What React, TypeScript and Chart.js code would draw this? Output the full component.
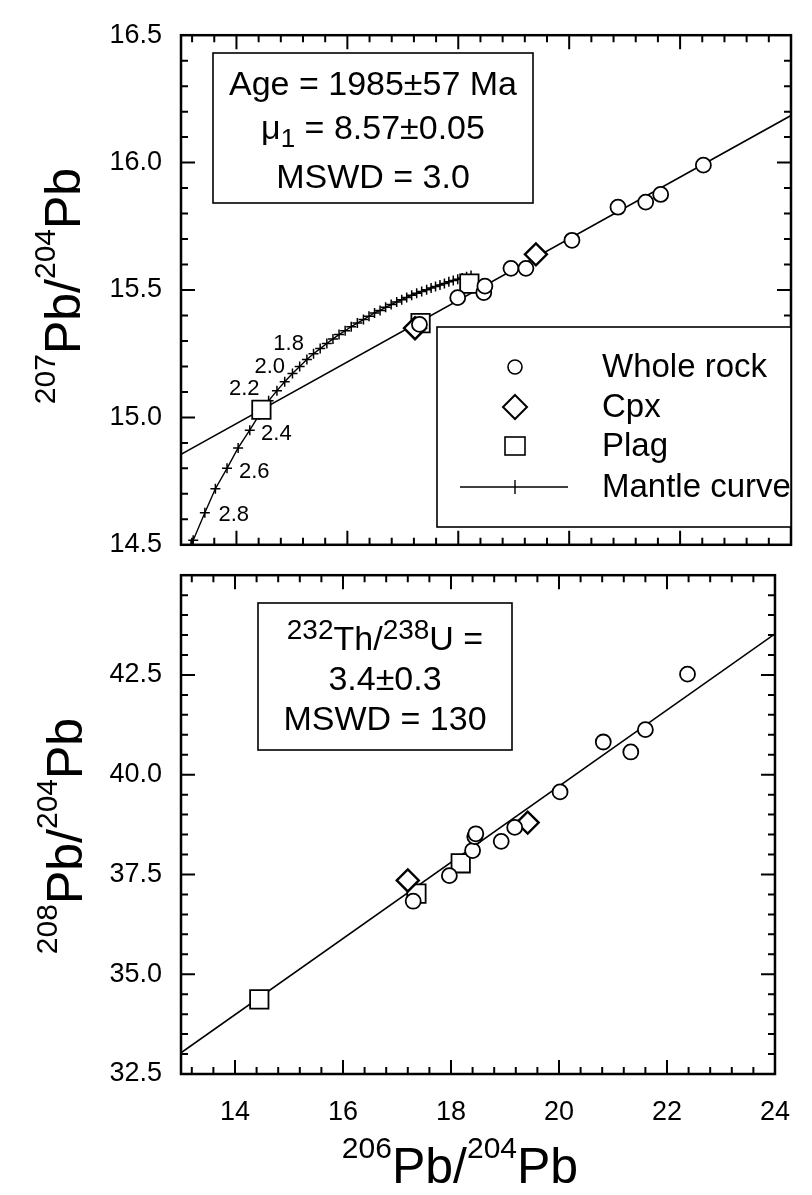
import React, { useEffect, useRef } from 'react';
import { Chart, registerables } from 'chart.js';

Chart.register(...registerables);

const FONT = '"Liberation Sans", Arial, Helvetica, sans-serif';

// ---------- axes ----------
const X_MIN = 13;
const X_MAX = 24;
const xTickValues = [14, 16, 18, 20, 22, 24];
const TOP_Y_MIN = 14.5;
const TOP_Y_MAX = 16.5;
const topYTickValues = [14.5, 15.0, 15.5, 16.0, 16.5];
const BOT_Y_MIN = 32.5;
const BOT_Y_MAX = 45;
const botYTickValues = [32.5, 35.0, 37.5, 40.0, 42.5];

// ---------- top panel: 207Pb/204Pb vs 206Pb/204Pb ----------
const wholeRockTop = [
  { x: 17.3, y: 15.365 }, { x: 17.99, y: 15.47 }, { x: 18.46, y: 15.49 },
  { x: 18.48, y: 15.515 }, { x: 18.95, y: 15.585 }, { x: 19.22, y: 15.585 },
  { x: 20.05, y: 15.695 }, { x: 20.88, y: 15.825 }, { x: 21.38, y: 15.845 },
  { x: 21.65, y: 15.875 }, { x: 22.42, y: 15.99 },
];
const cpxTop = [{ x: 17.22, y: 15.35 }, { x: 19.4, y: 15.64 }];
const plagTop = [{ x: 14.45, y: 15.03 }, { x: 17.32, y: 15.37 }, { x: 18.2, y: 15.525 }];
const isochronTop = [{ x: 13, y: 14.855 }, { x: 24, y: 16.185 }];
const mantleCurve = [
  { x: 13.18, y: 14.5 }, { x: 13.22, y: 14.518 }, { x: 13.43, y: 14.626 }, { x: 13.62, y: 14.72 },
  { x: 13.83, y: 14.8 }, { x: 14.03, y: 14.88 }, { x: 14.24, y: 14.95 }, { x: 14.41, y: 15.01 },
  { x: 14.58, y: 15.065 }, { x: 14.73, y: 15.105 }, { x: 14.87, y: 15.14 }, { x: 15.01, y: 15.172 },
  { x: 15.14, y: 15.2 }, { x: 15.27, y: 15.227 }, { x: 15.39, y: 15.25 }, { x: 15.51, y: 15.27 },
  { x: 15.63, y: 15.29 }, { x: 15.74, y: 15.308 }, { x: 15.85, y: 15.325 }, { x: 15.96, y: 15.34 },
  { x: 16.07, y: 15.356 }, { x: 16.18, y: 15.37 }, { x: 16.29, y: 15.384 }, { x: 16.39, y: 15.397 },
  { x: 16.49, y: 15.41 }, { x: 16.59, y: 15.42 }, { x: 16.69, y: 15.432 }, { x: 16.79, y: 15.443 },
  { x: 16.89, y: 15.453 }, { x: 16.98, y: 15.462 }, { x: 17.07, y: 15.471 }, { x: 17.16, y: 15.479 },
  { x: 17.25, y: 15.487 }, { x: 17.34, y: 15.494 }, { x: 17.43, y: 15.501 }, { x: 17.51, y: 15.508 },
  { x: 17.59, y: 15.514 }, { x: 17.67, y: 15.52 }, { x: 17.75, y: 15.526 }, { x: 17.83, y: 15.532 },
  { x: 17.91, y: 15.537 }, { x: 17.99, y: 15.542 }, { x: 18.07, y: 15.547 }, { x: 18.15, y: 15.552 },
  { x: 18.23, y: 15.557 },
];
const mantleLabels = [
  { t: '1.8', x: 14.94, y: 15.29 },
  { t: '2.0', x: 14.6, y: 15.2 },
  { t: '2.2', x: 14.14, y: 15.11 },
  { t: '2.4', x: 14.72, y: 14.936 },
  { t: '2.6', x: 14.32, y: 14.787 },
  { t: '2.8', x: 13.95, y: 14.618 },
];

// ---------- bottom panel: 208Pb/204Pb vs 206Pb/204Pb ----------
const wholeRockBot = [
  { x: 17.3, y: 36.83 }, { x: 17.97, y: 37.47 }, { x: 18.4, y: 38.1 }, { x: 18.44, y: 38.45 },
  { x: 18.46, y: 38.52 }, { x: 18.93, y: 38.33 }, { x: 19.18, y: 38.68 }, { x: 20.02, y: 39.57 },
  { x: 20.82, y: 40.82 }, { x: 21.33, y: 40.57 }, { x: 21.6, y: 41.13 }, { x: 22.38, y: 42.52 },
];
const cpxBot = [{ x: 17.2, y: 37.35 }, { x: 19.42, y: 38.8 }];
const plagBot = [{ x: 14.45, y: 34.37 }, { x: 17.36, y: 37.02 }, { x: 18.18, y: 37.78 }];
const isochronBot = [{ x: 13, y: 33.03 }, { x: 24, y: 43.53 }];

// ---------- texts ----------
const legendItems = ['Whole rock', 'Cpx', 'Plag', 'Mantle curve'];
const yTitleTop = [{ t: '207', k: 'sup' }, { t: 'Pb/' }, { t: '204', k: 'sup' }, { t: 'Pb' }];
const yTitleBot = [{ t: '208', k: 'sup' }, { t: 'Pb/' }, { t: '204', k: 'sup' }, { t: 'Pb' }];
const xTitle = [{ t: '206', k: 'sup' }, { t: 'Pb/' }, { t: '204', k: 'sup' }, { t: 'Pb' }];
const ageLines = [
  [{ t: 'Age = 1985±57 Ma' }],
  [{ t: 'μ' }, { t: '1', k: 'sub' }, { t: ' = 8.57±0.05' }],
  [{ t: 'MSWD = 3.0' }],
];
const thLines = [
  [{ t: '232', k: 'sup' }, { t: 'Th/' }, { t: '238', k: 'sup' }, { t: 'U =' }],
  [{ t: '3.4±0.3' }],
  [{ t: 'MSWD = 130' }],
];

type Part = { t: string; k?: string };

function drawRich(ctx: any, parts: Part[], px: number, py: number, main: number, small: number, shift: number, rotate = false) {
  ctx.save();
  ctx.fillStyle = '#000';
  ctx.textBaseline = 'alphabetic';
  ctx.textAlign = 'left';
  const widths = parts.map((p) => {
    ctx.font = `${p.k ? small : main}px ${FONT}`;
    return ctx.measureText(p.t).width;
  });
  const total = widths.reduce((a, b) => a + b, 0);
  ctx.translate(px, py);
  if (rotate) ctx.rotate(-Math.PI / 2);
  let x = -total / 2;
  parts.forEach((p, i) => {
    ctx.font = `${p.k ? small : main}px ${FONT}`;
    const dy = p.k === 'sup' ? -shift : p.k === 'sub' ? shift : 0;
    ctx.fillText(p.t, x, dy);
    x += widths[i];
  });
  ctx.restore();
}

function drawFrame(chart: any, yStart: number, yStep: number, yCount: number) {
  const { ctx, chartArea: a } = chart;
  const xs = chart.scales.x;
  const ys = chart.scales.y;
  const MAJ = 14;
  const MIN = 7;
  ctx.save();
  ctx.strokeStyle = '#000';
  ctx.lineWidth = 2;
  ctx.beginPath();
  for (let k = 0; k <= 40; k++) {
    const v = 12 + k * 0.4;
    if (v < X_MIN + 1e-6 || v > X_MAX - 1e-6) continue;
    const L = k % 5 === 0 ? MAJ : MIN;
    const p = xs.getPixelForValue(v);
    ctx.moveTo(p, a.bottom);
    ctx.lineTo(p, a.bottom - L);
    ctx.moveTo(p, a.top);
    ctx.lineTo(p, a.top + L);
  }
  for (let k = 1; k < yCount; k++) {
    const v = yStart + k * yStep;
    const L = k % 5 === 0 ? MAJ : MIN;
    const p = ys.getPixelForValue(v);
    ctx.moveTo(a.left, p);
    ctx.lineTo(a.left + L, p);
    ctx.moveTo(a.right, p);
    ctx.lineTo(a.right - L, p);
  }
  ctx.stroke();
  ctx.lineWidth = 2.5;
  ctx.strokeRect(a.left, a.top, a.right - a.left, a.bottom - a.top);
  ctx.restore();
}

function markerDatasets(wr: any[], cpx: any[], plag: any[]) {
  return [
    {
      label: 'Plag', data: plag, pointStyle: 'rect', pointRadius: 13, pointBorderWidth: 1.8,
      pointBackgroundColor: '#fff', pointBorderColor: '#000', order: 3,
    },
    {
      label: 'Cpx', data: cpx, pointStyle: 'rectRot', pointRadius: 11, pointBorderWidth: 2.4,
      pointBackgroundColor: '#fff', pointBorderColor: '#000', order: 2,
    },
    {
      label: 'Whole rock', data: wr, pointStyle: 'circle', pointRadius: 7.5, pointBorderWidth: 1.8,
      pointBackgroundColor: '#fff', pointBorderColor: '#000', order: 1,
    },
  ];
}

function scalesFor(yMin: number, yMax: number, yTicks: number[], showX: boolean, xHeight: number) {
  return {
    x: {
      type: 'linear', min: X_MIN, max: X_MAX, position: 'bottom',
      grid: { display: false, drawTicks: false }, border: { display: false },
      afterBuildTicks: (s: any) => { s.ticks = xTickValues.map((v) => ({ value: v })); },
      ticks: {
        display: showX, font: { family: FONT, size: 27 }, color: '#000', padding: 22,
        maxRotation: 0, minRotation: 0, autoSkip: false,
        callback: (v: any) => String(v),
      },
      afterFit: (s: any) => { s.height = xHeight; },
    },
    y: {
      type: 'linear', min: yMin, max: yMax, position: 'left',
      grid: { display: false, drawTicks: false }, border: { display: false },
      afterBuildTicks: (s: any) => { s.ticks = yTicks.map((v) => ({ value: v })); },
      ticks: {
        font: { family: FONT, size: 27 }, color: '#000', padding: 19, autoSkip: false,
        callback: (v: any) => Number(v).toFixed(1),
      },
      afterFit: (s: any) => { s.width = 181; },
    },
  };
}

const topDecor = {
  id: 'topDecor',
  afterDraw(chart: any) {
    const ctx = chart.ctx;
    const xs = chart.scales.x;
    const ys = chart.scales.y;
    drawFrame(chart, TOP_Y_MIN, 0.1, 20);

    // mantle curve age labels
    ctx.save();
    ctx.font = `22px ${FONT}`;
    ctx.fillStyle = '#000';
    ctx.textAlign = 'center';
    ctx.textBaseline = 'middle';
    mantleLabels.forEach((l) => ctx.fillText(l.t, xs.getPixelForValue(l.x), ys.getPixelForValue(l.y)));
    ctx.restore();

    // age box
    ctx.save();
    ctx.strokeStyle = '#000';
    ctx.lineWidth = 1.6;
    ctx.strokeRect(213, 53, 320, 150);
    ctx.restore();
    drawRich(ctx, ageLines[0], 373, 95, 34, 26, 8);
    drawRich(ctx, ageLines[1], 373, 139, 34, 26, 8);
    drawRich(ctx, ageLines[2], 373, 188, 34, 26, 8);

    // legend
    ctx.save();
    ctx.fillStyle = '#fff';
    ctx.fillRect(437, 327, 791 - 437, 200);
    ctx.strokeStyle = '#000';
    ctx.lineWidth = 1.6;
    ctx.strokeRect(437, 327, 791 - 437, 200);
    const sx = 515;
    const rows = [367, 407, 446, 487];
    ctx.lineWidth = 1.6;
    ctx.beginPath();
    ctx.arc(sx, rows[0], 7, 0, Math.PI * 2);
    ctx.stroke();
    ctx.lineWidth = 2;
    ctx.beginPath();
    ctx.moveTo(sx, rows[1] - 12);
    ctx.lineTo(sx + 12, rows[1]);
    ctx.lineTo(sx, rows[1] + 12);
    ctx.lineTo(sx - 12, rows[1]);
    ctx.closePath();
    ctx.stroke();
    ctx.lineWidth = 1.6;
    ctx.strokeRect(sx - 10, rows[2] - 9, 20, 18);
    ctx.lineWidth = 1.4;
    ctx.beginPath();
    ctx.moveTo(460, rows[3]);
    ctx.lineTo(568, rows[3]);
    ctx.moveTo(sx, rows[3] - 7);
    ctx.lineTo(sx, rows[3] + 7);
    ctx.stroke();
    ctx.fillStyle = '#000';
    ctx.font = `33px ${FONT}`;
    ctx.textAlign = 'left';
    ctx.textBaseline = 'middle';
    legendItems.forEach((t, i) => ctx.fillText(t, 602, rows[i] + 1));
    ctx.restore();

    // y title
    drawRich(ctx, yTitleTop, 80, 286, 50, 30, 25, true);
  },
};

const botDecor = {
  id: 'botDecor',
  afterDraw(chart: any) {
    const ctx = chart.ctx;
    drawFrame(chart, BOT_Y_MIN, 0.5, 25);

    ctx.save();
    ctx.strokeStyle = '#000';
    ctx.lineWidth = 1.6;
    ctx.strokeRect(258, 63, 254, 147);
    ctx.restore();
    drawRich(ctx, thLines[0], 385, 110, 34, 28, 11);
    drawRich(ctx, thLines[1], 385, 150, 34, 28, 11);
    drawRich(ctx, thLines[2], 385, 190, 34, 28, 11);

    drawRich(ctx, yTitleBot, 82, 296, 50, 30, 25, true);
    drawRich(ctx, xTitle, 460, 643, 50, 30, 25, false);
  },
};

function baseOptions(padTop: number, scales: any) {
  return {
    animation: false,
    responsive: false,
    maintainAspectRatio: false,
    events: [],
    layout: { padding: { left: 0, right: 21, top: padTop, bottom: 0 } },
    plugins: { legend: { display: false }, tooltip: { enabled: false } },
    scales,
  };
}

export default function App() {
  const topRef = useRef<HTMLCanvasElement>(null);
  const botRef = useRef<HTMLCanvasElement>(null);

  useEffect(() => {
    const top = new Chart(topRef.current as HTMLCanvasElement, {
      type: 'scatter',
      data: {
        datasets: [
          {
            label: 'Isochron', data: isochronTop, showLine: true, borderColor: '#000', borderWidth: 1.6,
            pointRadius: 0, order: 10,
          },
          {
            label: 'Mantle curve', data: mantleCurve, showLine: true, borderColor: '#000', borderWidth: 1.4,
            pointStyle: 'cross', pointRadius: 5, pointBorderWidth: 1.5, pointBorderColor: '#000', order: 9,
          },
          ...markerDatasets(wholeRockTop, cpxTop, plagTop),
        ] as any,
      },
      options: baseOptions(25, scalesFor(TOP_Y_MIN, TOP_Y_MAX, topYTickValues, false, 32)) as any,
      plugins: [topDecor],
    });
    const bot = new Chart(botRef.current as HTMLCanvasElement, {
      type: 'scatter',
      data: {
        datasets: [
          {
            label: 'Isochron', data: isochronBot, showLine: true, borderColor: '#000', borderWidth: 1.6,
            pointRadius: 0, order: 10,
          },
          ...markerDatasets(wholeRockBot, cpxBot, plagBot),
        ] as any,
      },
      options: baseOptions(8, scalesFor(BOT_Y_MIN, BOT_Y_MAX, botYTickValues, true, 121)) as any,
      plugins: [botDecor],
    });
    return () => {
      top.destroy();
      bot.destroy();
    };
  }, []);

  return (
    <div style={{ position: 'absolute', left: 0, top: 0, width: 812, height: 1195, background: '#fff', overflow: 'hidden' }}>
      <canvas ref={botRef} width={812} height={655} style={{ position: 'absolute', left: 0, top: 540, width: 812, height: 655 }} />
      <canvas ref={topRef} width={812} height={580} style={{ position: 'absolute', left: 0, top: 0, width: 812, height: 580 }} />
    </div>
  );
}
